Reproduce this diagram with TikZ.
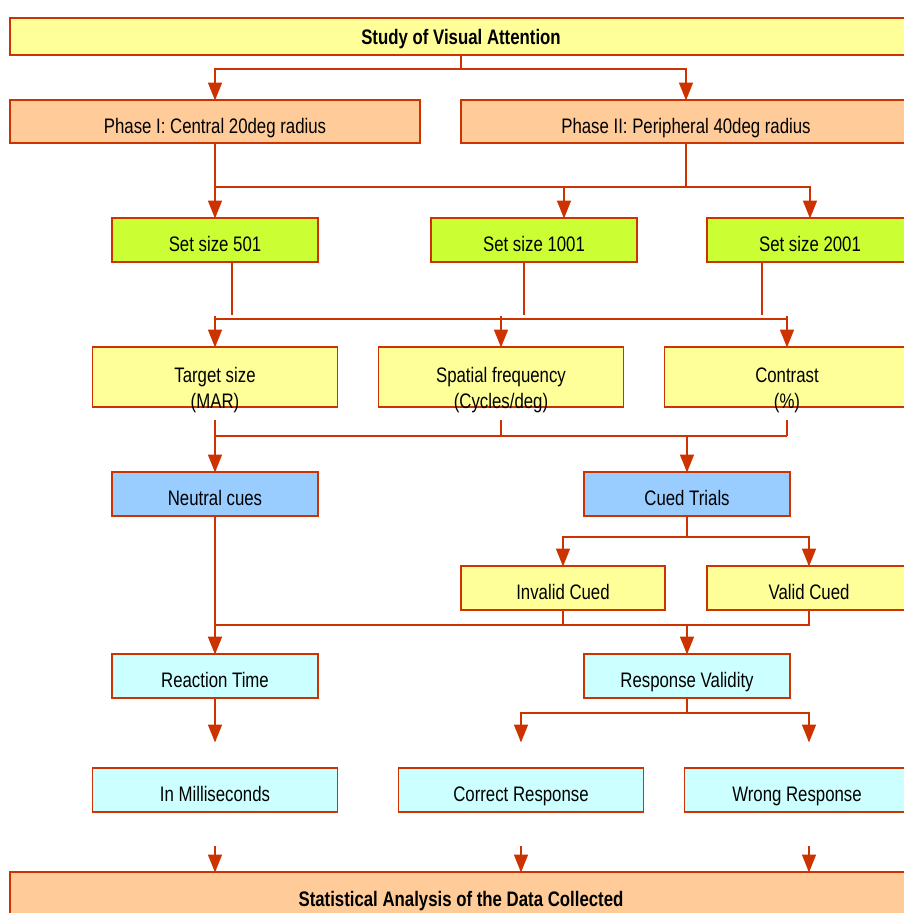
\documentclass[tikz,border=0pt]{standalone}
\usepackage{fontspec}
\setmainfont{Liberation Sans}[FakeStretch=0.8]
\usetikzlibrary{positioning,arrows.meta}
\definecolor{edgered}{HTML}{CC3300}
\definecolor{paleyel}{HTML}{FFFF99}
\definecolor{peach}{HTML}{FFCC99}
\definecolor{lime}{HTML}{CCFF33}
\definecolor{skyblue}{HTML}{99CCFF}
\definecolor{palecyan}{HTML}{CCFFFF}
\newcommand{\boxfont}{\fontsize{21}{26.5}\selectfont}

\tikzset{
    box/.style={draw=edgered, line width=1.5pt, inner sep=0pt, outer sep=0pt, minimum height=44pt, font=\boxfont, text height=24pt, text depth=1pt},
    headbox/.style={box, fill=peach, font=\boxfont\bfseries, minimum width=902pt, text height=16pt, text depth=1pt, anchor=north west},
    setbox/.style={box, fill=lime, minimum width=206pt},
    param/.style={box, fill=paleyel, minimum width=245pt, minimum height=60pt},
    cuebox/.style={box, fill=skyblue, minimum width=206pt},
    yelbox/.style={box, fill=paleyel, minimum width=204pt},
    outbox/.style={box, fill=palecyan, minimum width=206pt},
    plabel/.style={font=\boxfont, align=center, yshift=-13pt},
    line/.style={draw=edgered, line width=1.6pt},
    arr/.style={line, -{Triangle[length=18pt,width=14pt]}, shorten >=-0.5pt}
}

\begin{document}
\begin{tikzpicture}[x=1pt, y=-1pt]
            \useasboundingbox (0,0) rectangle (903,913);
            \node[headbox, fill=paleyel, minimum height=37pt] (t0) at (10,18) {Study of Visual Attention};
            \node[box, fill=peach, minimum width=410pt, minimum height=43pt, below right=45pt and 0pt of t0.south west] (p1) {Phase I: Central 20deg radius};
            \node[box, fill=peach, minimum width=450pt, minimum height=43pt, right=41pt of p1] (p2) {Phase II: Peripheral 40deg radius};
            \node[setbox, below=75pt of p1] (s1) {Set size 501};
            \node[setbox, right=113pt of s1] (s2) {Set size 1001};
            \node[setbox, right=70pt of s2] (s3) {Set size 2001};
            \node[param, below=85pt of s1, label={[plabel]center:\strut Target size\\\strut(MAR)}] (a1) {};
            \node[param, right=41pt of a1, label={[plabel]center:\strut Spatial frequency\\\strut(Cycles/deg)}] (a2) {};
            \node[param, right=41pt of a2, label={[plabel]center:\strut Contrast\\\strut(\%)}] (a3) {};
            \node[cuebox, below=65pt of a1] (n1) {Neutral cues};
            \node[cuebox, right=266pt of n1] (n2) {Cued Trials};
            \node[yelbox, below=50pt of n2.south west, xshift=-21pt] (i1) {Invalid Cued};
            \node[yelbox, right=42pt of i1] (v1) {Valid Cued};
            \node[outbox, below=138pt of n1] (r1) {Reaction Time};
            \node[outbox, right=266pt of r1] (r2) {Response Validity};
            \node[outbox, minimum width=245pt, below=70pt of r1] (m1) {In Milliseconds};
            \node[outbox, minimum width=245pt, right=61pt of m1] (m2) {Correct Response};
            \node[outbox, minimum width=225pt, right=41pt of m2] (m3) {Wrong Response};
            \node[headbox, minimum height=54pt] (b0) at (10,872) {Statistical Analysis of the Data Collected};

            \draw[line] (t0.south) -- ++(0,14) coordinate (j0);
            \draw[arr] (j0) -| (p1.north);
            \draw[arr] (j0) -| (p2.north);
            \draw[arr] (p1.south) -- (s1.north);
            \draw[line] (p2.south) -- ++(0,44) coordinate (j1);
            \draw[line] (j1) -- (j1 -| p1);
            \draw[arr] (j1) -| ([xshift=30pt]s2.north);
            \draw[arr] (j1) -| (s3.north);

            \draw[line] ([xshift=17pt]s1.south) -- ++(0,53);
            \draw[line] ([xshift=-10pt]s2.south) -- ++(0,53);
            \draw[line] ([xshift=-48pt]s3.south) -- ++(0,53);
            \draw[line] ([yshift=28pt]a1.north) -- ([yshift=28pt]a3.north);
            \draw[arr] ([yshift=31pt]a1.north) -- (a1.north);
            \draw[arr] ([yshift=31pt]a2.north) -- (a2.north);
            \draw[arr] ([yshift=31pt]a3.north) -- (a3.north);

            \draw[arr] ([yshift=-13pt]a1.south) -- (n1.north);
            \draw[line] ([yshift=-13pt]a2.south) -- ++(0,16);
            \draw[line] ([yshift=-13pt]a3.south) -- ++(0,16) coordinate (j3);
            \draw[line] (j3) -- (j3 -| a1);
            \draw[arr] (j3 -| n2) -- (n2.north);

            \draw[line] (n2.south) -- ++(0,21) coordinate (j4);
            \draw[arr] (j4) -| (i1.north);
            \draw[arr] (j4) -| (v1.north);

            \draw[arr, line width=2.2pt] (n1.south) -- (r1.north);
            \draw[line] (i1.south) -- ++(0,15) coordinate (j5);
            \draw[line] (v1.south) -- (v1.south |- j5) -- (j5 -| n1);
            \draw[arr] (j5 -| r2) -- (r2.north);

            \draw[arr] (r1.south) -- ([yshift=26pt]m1.north);
            \draw[line] (r2.south) -- ++(0,15) coordinate (j6);
            \draw[arr] (j6) -| ([yshift=26pt]m2.north);
            \draw[arr] (j6) -| ([xshift=12pt,yshift=26pt]m3.north);

            \draw[arr] ([yshift=-34pt]m1.south) -- (m1.south |- b0.north);
            \draw[arr] ([yshift=-34pt]m2.south) -- (m2.south |- b0.north);
            \draw[arr] ([xshift=12pt,yshift=-34pt]m3.south) -- ([xshift=12pt]m3.south |- b0.north);
\end{tikzpicture}
\end{document}
